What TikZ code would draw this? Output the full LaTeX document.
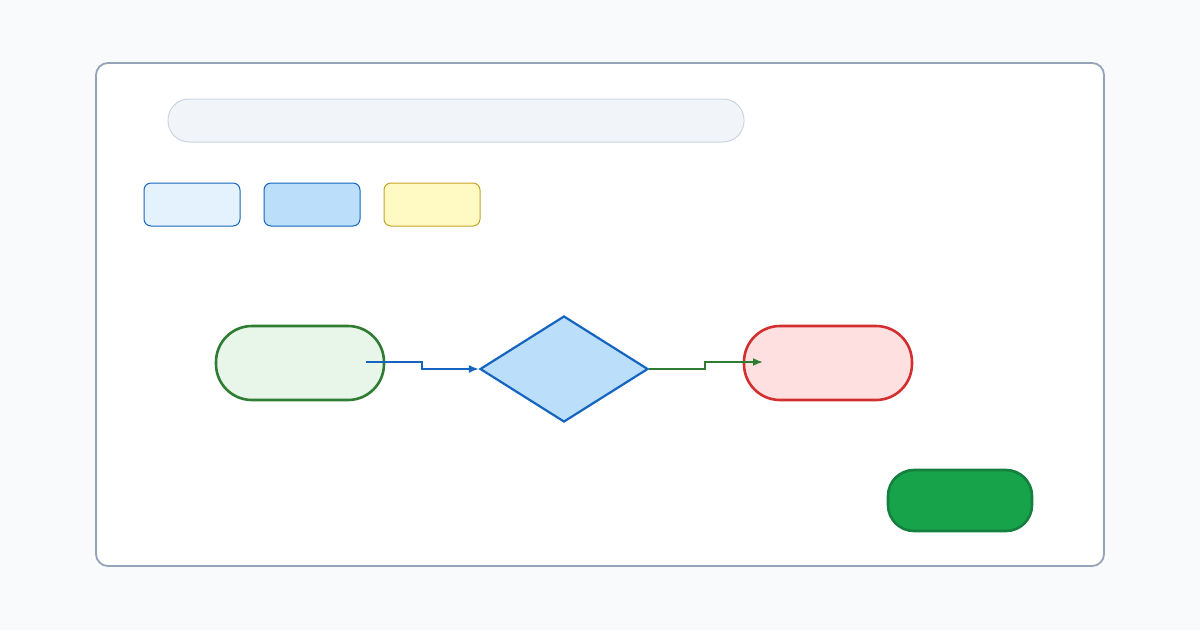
\documentclass[tikz,border=0pt]{standalone}
\usetikzlibrary{shapes.geometric,arrows.meta}
\definecolor{bg}{HTML}{F8FAFC}
\definecolor{panelb}{HTML}{94A3B8}
\definecolor{barf}{HTML}{F1F5F9}
\definecolor{barb}{HTML}{CBD5E1}
\definecolor{lblue}{HTML}{E3F2FD}
\definecolor{mblue}{HTML}{BBDEFB}
\definecolor{dblue}{HTML}{1565C0}
\definecolor{lyel}{HTML}{FFF9C4}
\definecolor{dyel}{HTML}{C9A227}
\definecolor{lgreen}{HTML}{E8F5E9}
\definecolor{dgreen}{HTML}{2E7D32}
\definecolor{lred}{HTML}{FFE0E0}
\definecolor{dred}{HTML}{D32F2F}
\definecolor{btn}{HTML}{16A34A}
\definecolor{btnb}{HTML}{15803D}
\begin{document}
\begin{tikzpicture}[x=1pt,y=-1pt,
  chip/.style={draw,line width=1pt,rounded corners=7pt},
  pill/.style={draw,line width=2.6pt,rounded corners=36pt},
  conn/.style={line width=1.8pt,-{Latex[length=10pt,width=8pt]}}]
\useasboundingbox (0,0) rectangle (1200,630);
\fill[bg] (0,0) rectangle (1200,630);
\draw[panelb,fill=white,line width=1.8pt,rounded corners=12pt] (96,63) rectangle (1104,566);
\draw[barb,fill=barf,line width=1pt,rounded corners=21pt] (168,99) rectangle (744,142);
\draw[chip,dblue,fill=lblue] (144,183) rectangle (240,226);
\draw[chip,dblue,fill=mblue] (264,183) rectangle (360,226);
\draw[chip,dyel,fill=lyel] (384,183) rectangle (480,226);
\draw[pill,dgreen,fill=lgreen] (216,326) rectangle (384,400);
\draw[pill,dred,fill=lred] (744,326) rectangle (912,400);
\node[diamond,draw=dblue,fill=mblue,line width=2.2pt,minimum width=168pt,minimum height=106pt,inner sep=0pt] (dec) at (564,369) {};
\draw[btnb,fill=btn,line width=2.6pt,rounded corners=26pt] (888,470) rectangle (1032,531);
\coordinate (s) at (366,362);
\coordinate (e) at (763,362);
\draw[conn,dblue] (s) -- (422,362) -- (422,369) -- (dec.west);
\draw[conn,dgreen] (dec.east) -- (705,369) -- (705,362) -- (e);
\end{tikzpicture}
\end{document}
